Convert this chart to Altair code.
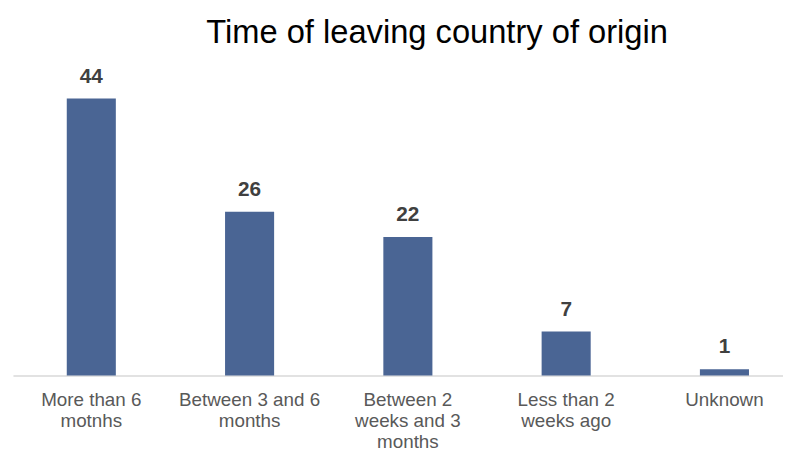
import altair as alt
import pandas as pd

categories = ["More than 6|motnhs", "Between 3 and 6|months", "Between  2|weeks and 3|months",
              "Less than 2|weeks ago", "Unknown"]
values = [44, 26, 22, 7, 1]

df = pd.DataFrame({"cat": categories, "val": values})

x = alt.X("cat:N", sort=categories, title=None,
          scale=alt.Scale(paddingInner=0.69, paddingOuter=0.34, range=[1, 799]),
          axis=alt.Axis(labelAngle=0, labelExpr="split(datum.label, '|')",
                        labelFont="Liberation Sans", labelFontSize=19, labelColor="#595959",
                        labelLineHeight=21.5, labelPadding=15, ticks=False,
                        domainColor="#D9D9D9", domainWidth=1.5, labelLimit=200))
y = alt.Y("val:Q", scale=alt.Scale(domain=[0, 50]), axis=None)

bars = alt.Chart(df).mark_bar(color="#4A6594").encode(x=x, y=y)
labels = alt.Chart(df).mark_text(font="Liberation Sans", fontSize=21, fontWeight="bold",
                                 color="#404040", baseline="alphabetic", dy=-16).encode(
    x=x, y=y, text="val:Q")

chart = (bars + labels).properties(
    width=779, height=318,
    title=alt.TitleParams("Time of leaving country of origin", font="Liberation Sans",
                          fontSize=33, fontWeight="normal", color="#000000",
                          anchor="middle", dx=40, offset=11),
    autosize=alt.AutoSizeParams(type="none"),
    padding={"left": 4, "top": 51, "right": 0, "bottom": 74},
).configure_view(stroke=None)

chart.save("out.html", embed_options={"renderer": "svg", "actions": False})
